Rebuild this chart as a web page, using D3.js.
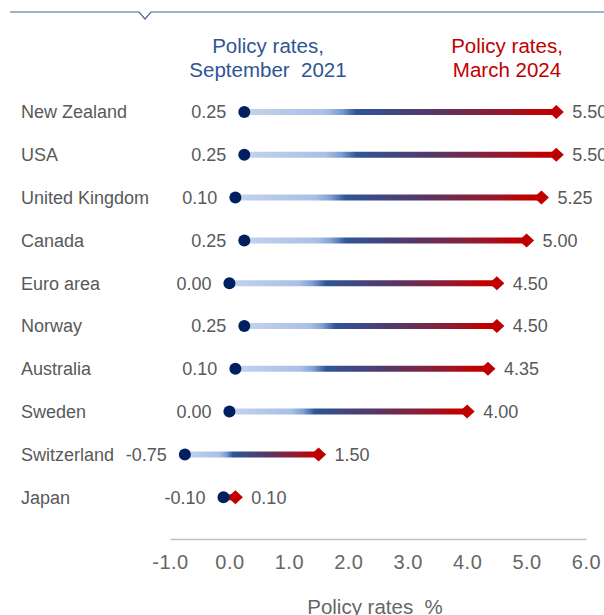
<!DOCTYPE html>
<html>
<head>
<meta charset="utf-8">
<script src="https://cdn.jsdelivr.net/npm/d3@7"></script>
<style>
  body { margin: 0; background: #fff; }
  svg { font-family: "Liberation Sans", Arial, sans-serif; }
  text { white-space: pre; }
</style>
</head>
<body>
<svg id="chart" width="604" height="615"></svg>
<script>
// data
var countries = ["New Zealand", "USA", "United Kingdom", "Canada", "Euro area",
                 "Norway", "Australia", "Sweden", "Switzerland", "Japan"];
var rates2021 = [0.25, 0.25, 0.10, 0.25, 0.00, 0.25, 0.10, 0.00, -0.75, -0.10];
var rates2024 = [5.50, 5.50, 5.25, 5.00, 4.50, 4.50, 4.35, 4.00, 1.50, 0.10];
var xTicks = [-1, 0, 1, 2, 3, 4, 5, 6];
var xTickLabels = ["-1.0", "0.0", "1.0", "2.0", "3.0", "4.0", "5.0", "6.0"];

var data = countries.map(function(c, i) {
  return { country: c, from: rates2021[i], to: rates2024[i] };
});

var svg = d3.select("#chart");
var navy = "#002060", red = "#c00000", grey = "#595959";

var x = d3.scaleLinear().domain([-1, 6]).range([170, 586]);
var y = d3.scaleBand().domain(countries).range([90.6, 518.6]);

// header rule with notch
svg.append("path")
  .attr("d", "M10,12 H139 L145,19 L151,12 H604")
  .attr("fill", "none")
  .attr("stroke", "#44679b")
  .attr("stroke-width", 1.2);

// legend titles
var leg = [
  { lines: ["Policy rates,", "September  2021"], x: 268, color: "#2f5597" },
  { lines: ["Policy rates,", "March 2024"], x: 507, color: "#c00000" }
];
leg.forEach(function(l) {
  var t = svg.append("text")
    .attr("x", l.x).attr("y", 53)
    .attr("text-anchor", "middle")
    .attr("fill", l.color)
    .style("font-size", "20.5px");
  l.lines.forEach(function(s, i) {
    t.append("tspan").attr("x", l.x).attr("dy", i ? 24 : 0).text(s);
  });
});

// gradient per row (relative to each line)
var defs = svg.append("defs");
var stops = [
  [0, "#c3d3ee"], [0.26, "#a9bfe4"], [0.31, "#7f9fd3"], [0.36, "#2f5597"],
  [0.6, "#543868"], [0.85, "#9a1628"], [0.95, "#c00000"], [1, "#c00000"]
];
data.forEach(function(d, i) {
  var g = defs.append("linearGradient")
    .attr("id", "grad" + i)
    .attr("gradientUnits", "userSpaceOnUse")
    .attr("x1", x(d.from)).attr("x2", x(d.to))
    .attr("y1", 0).attr("y2", 0);
  stops.forEach(function(s) {
    g.append("stop").attr("offset", s[0]).attr("stop-color", s[1]);
  });
});

var rows = svg.selectAll(".row")
  .data(data)
  .enter().append("g")
  .attr("class", "row")
  .attr("transform", function(d) { return "translate(0," + (y(d.country) + y.bandwidth() / 2) + ")"; });

rows.append("text")
  .attr("x", 21).attr("dy", "0.35em")
  .attr("fill", grey)
  .style("font-size", "18px")
  .text(function(d) { return d.country; });

rows.append("line")
  .attr("x1", function(d) { return x(d.from); })
  .attr("x2", function(d) { return x(d.to); })
  .attr("y1", 0).attr("y2", 0.01)
  .attr("stroke", function(d, i) { return "url(#grad" + i + ")"; })
  .attr("stroke-width", 6);

rows.append("path")
  .attr("d", "M0,-7 L7.5,0 L0,7 L-7.5,0 Z")
  .attr("transform", function(d) { return "translate(" + x(d.to) + ",0)"; })
  .attr("fill", red);

rows.append("circle")
  .attr("cx", function(d) { return x(d.from); })
  .attr("r", 6)
  .attr("fill", navy);

rows.append("text")
  .attr("x", function(d) { return x(d.from) - 18; })
  .attr("dy", "0.35em")
  .attr("text-anchor", "end")
  .attr("fill", grey)
  .style("font-size", "18px")
  .text(function(d) { return d.from.toFixed(2); });

rows.append("text")
  .attr("x", function(d) { return x(d.to) + 16; })
  .attr("dy", "0.35em")
  .attr("fill", grey)
  .style("font-size", "18px")
  .text(function(d) { return d.to.toFixed(2); });

// x axis
var axis = svg.append("g")
  .attr("transform", "translate(0,539)")
  .call(d3.axisBottom(x).tickValues(xTicks).tickSize(0).tickPadding(16)
    .tickFormat(function(d, i) { return xTickLabels[i]; }));
axis.select(".domain").attr("stroke", "#bfbfbf").attr("stroke-width", 1.5);
axis.selectAll("text")
  .attr("fill", "#666")
  .style("font-size", "20px")
  .style("letter-spacing", "0.5px")
  .style("font-family", "'Liberation Sans', Arial, sans-serif");

svg.append("text")
  .attr("x", 375).attr("y", 614)
  .attr("text-anchor", "middle")
  .attr("fill", "#666")
  .style("font-size", "20.5px")
  .text("Policy rates  %");
</script>
</body>
</html>
